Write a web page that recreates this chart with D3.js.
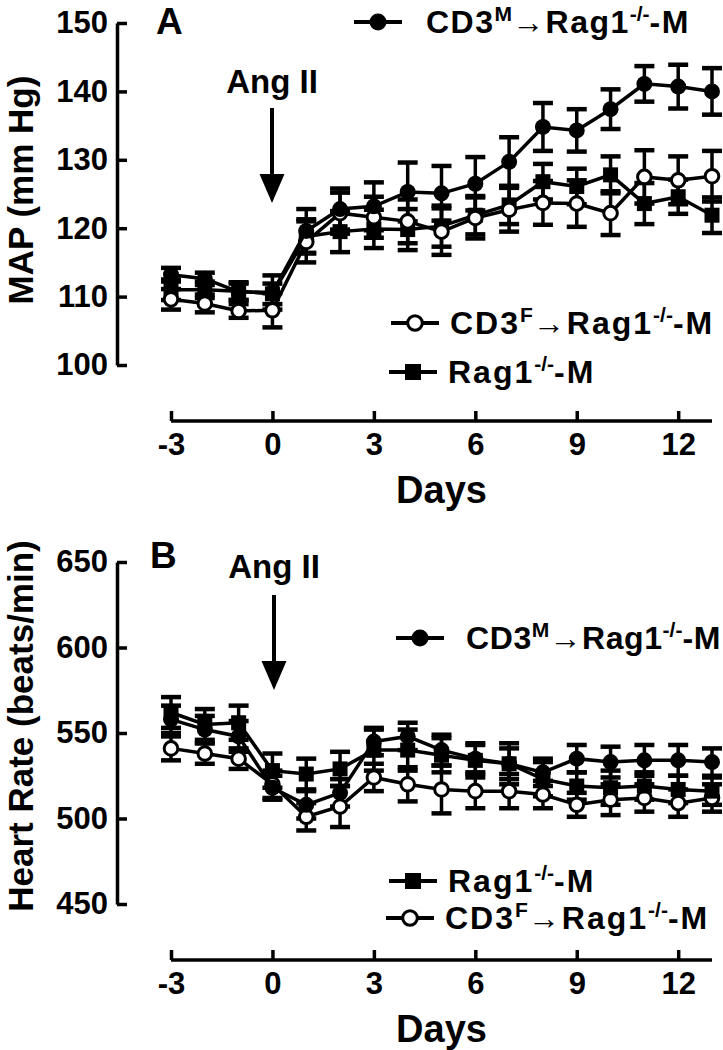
<!DOCTYPE html>
<html>
<head>
<meta charset="utf-8">
<script src="https://cdn.jsdelivr.net/npm/d3@7"></script>
<style>
  body { margin: 0; background: #fff; }
  svg text { font-family: "Liberation Sans", Arial, sans-serif; font-weight: bold; fill: #000; }
  .axis path, .axis line { stroke: #000; stroke-width: 3.5; }
  .axis text { font-size: 31px; }
</style>
</head>
<body>
<script>
(function (){

    //days of the protocol (Ang II started at day 0)
    var days = [-3, -2, -1, 0, 1, 2, 3, 4, 5, 6, 7, 8, 9, 10, 11, 12, 13];
    var dayTicks = [-3, 0, 3, 6, 9, 12];

    //panel A, mean arterial pressure (mm Hg), mean and SEM
    var mapTicks = [100, 110, 120, 130, 140, 150];
    var mapCD3M = [113.2, 112.6, 110.7, 110.6, 119.6, 122.8, 123.2, 125.3, 125.1, 126.5, 129.7, 134.8, 134.3, 137.4, 141.1, 140.7, 140.0];
    var mapCD3MErr = [1.0, 0.9, 1.2, 2.5, 3.2, 3.0, 3.5, 4.3, 4.0, 3.9, 3.6, 3.5, 3.1, 2.9, 2.6, 3.2, 3.4];
    var mapCD3F = [109.6, 109.0, 107.9, 108.0, 118.0, 122.2, 121.6, 121.0, 119.5, 121.5, 122.7, 123.7, 123.6, 122.2, 127.5, 127.0, 127.6];
    var mapCD3FErr = [1.5, 1.3, 1.0, 2.5, 3.0, 3.0, 3.0, 3.2, 3.4, 3.0, 3.2, 3.2, 3.4, 3.2, 3.9, 3.5, 3.7];
    var mapRag = [111.0, 111.0, 110.8, 110.4, 118.8, 119.5, 119.9, 119.8, 120.3, 121.9, 123.4, 126.8, 126.1, 127.8, 123.6, 124.6, 121.9];
    var mapRagErr = [1.5, 1.2, 1.3, 1.5, 2.5, 3.0, 2.8, 3.0, 3.0, 2.8, 2.8, 2.6, 2.6, 2.7, 3.0, 2.5, 2.6];

    //panel B, heart rate (beats/min), mean and SEM
    var hrTicks = [450, 500, 550, 600, 650];
    var hrCD3M = [558, 552, 548, 518, 508, 515, 545, 548, 540, 535, 532, 527, 535, 533, 534, 534, 533];
    var hrCD3MErr = [8, 8, 9, 7, 8, 8, 8, 8, 9, 8, 9, 8, 8, 9, 9, 9, 8];
    var hrCD3F = [541, 538, 535, 520, 501, 507, 524, 520, 517, 516, 516, 514, 508, 511, 512, 509, 512];
    var hrCD3FErr = [7, 6, 6, 8, 8, 12, 8, 10, 14, 10, 10, 8, 7, 9, 8, 8, 8];
    var hrRag = [562, 555, 556, 528, 526, 529, 540, 540, 537, 534, 532, 523, 519, 518, 519, 517, 516];
    var hrRagErr = [9, 9, 10, 10, 9, 10, 12, 12, 10, 10, 12, 10, 8, 10, 8, 8, 8];

    var width = 723, height = 1050;

    var svg = d3.select("body")
        .append("svg")
        .attr("width", width)
        .attr("height", height);

    //shared day scale
    var x = d3.scaleLinear()
        .domain([-3, 13])
        .range([171, 712]);

    var yA = d3.scaleLinear().domain([100, 150]).range([365, 23]);
    var yB = d3.scaleLinear().domain([450, 650]).range([904, 562]);

    drawPanel(yA, mapTicks, 421, "MAP (mm Hg)", 190, [
        {mean: mapRag, err: mapRagErr, shape: "square"},
        {mean: mapCD3F, err: mapCD3FErr, shape: "open"},
        {mean: mapCD3M, err: mapCD3MErr, shape: "filled"}
    ]);
    drawPanel(yB, hrTicks, 960, "Heart Rate (beats/min)", 726, [
        {mean: hrCD3F, err: hrCD3FErr, shape: "open"},
        {mean: hrRag, err: hrRagErr, shape: "square"},
        {mean: hrCD3M, err: hrCD3MErr, shape: "filled"}
    ]);

    //panel letters
    svg.append("text").attr("x", 156).attr("y", 34).style("font-size", "37px").text("A");
    svg.append("text").attr("x", 150).attr("y", 568).style("font-size", "37px").text("B");

    //Ang II annotations
    angArrow(272, 93, 108, 203);
    angArrow(274, 578, 595, 690);

    //legends
    var cd3m = [["CD3", ""], ["M", "sup"], ["\u2192Rag1", ""], ["-/-", "sup"], ["-M", ""]];
    var cd3f = [["CD3", ""], ["F", "sup"], ["\u2192Rag1", ""], ["-/-", "sup"], ["-M", ""]];
    var rag = [["Rag1", ""], ["-/-", "sup"], ["-M", ""]];
    legendItem(378, 22, "filled", cd3m, 48, 1.5);
    legendItem(415, 323, "open", cd3f, 35, 2);
    legendItem(413, 372, "square", rag, 35, 2);
    legendItem(420, 638, "filled", cd3m, 46, 0.6);
    legendItem(413, 881, "square", rag, 35, 2);
    legendItem(410, 918, "open", cd3f, 35, 2);

    function drawPanel(y, ticks, axisY, label, labelY, series){
        //y axis, ticks pointing into the plot
        svg.append("g")
            .attr("class", "axis")
            .attr("transform", "translate(117,0)")
            .call(d3.axisLeft(y).tickValues(ticks).tickSize(-10).tickSizeOuter(0).tickPadding(9));

        //x axis, ticks pointing up, plain hyphen for negatives
        svg.append("g")
            .attr("class", "axis")
            .attr("transform", "translate(0," + axisY + ")")
            .call(d3.axisBottom(x).tickValues(dayTicks).tickSize(-10).tickSizeOuter(0).tickPadding(12)
                .tickFormat(function(d){ return String(d); }))
            .select(".domain").attr("d", "M" + x(-3) + ",0H" + x(13));

        svg.append("text")
            .attr("x", (x(-3) + x(13)) / 2)
            .attr("y", axisY + 82)
            .attr("text-anchor", "middle")
            .style("font-size", "38px")
            .text("Days");

        svg.append("text")
            .attr("transform", "translate(33," + labelY + ") rotate(-90)")
            .attr("text-anchor", "middle")
            .style("font-size", "35px")
            .text(label);

        var line = d3.line()
            .x(function(d, i){ return x(days[i]); })
            .y(function(d){ return y(d); });

        //error bars first, then lines and markers
        series.forEach(function(s){
            var g = svg.append("g");
            s.mean.forEach(function(m, i){
                var cx = x(days[i]), top = y(m + s.err[i]), bot = y(m - s.err[i]);
                g.append("line").attr("x1", cx).attr("x2", cx).attr("y1", top).attr("y2", bot)
                    .attr("stroke", "#000").attr("stroke-width", 3.5);
                [top, bot].forEach(function(cy){
                    g.append("line").attr("x1", cx - 10).attr("x2", cx + 10).attr("y1", cy).attr("y2", cy)
                        .attr("stroke", "#000").attr("stroke-width", 4.5);
                });
            });
        });
        series.forEach(function(s){
            svg.append("path")
                .datum(s.mean)
                .attr("d", line)
                .attr("fill", "none")
                .attr("stroke", "#000")
                .attr("stroke-width", 3.5);
            s.mean.forEach(function(m, i){
                marker(svg, x(days[i]), y(m), s.shape, 8);
            });
        });
    }

    function marker(g, cx, cy, shape, r){
        if (shape === "square"){
            g.append("rect").attr("x", cx - r + 0.5).attr("y", cy - r + 0.5).attr("width", 2 * r - 1).attr("height", 2 * r - 1).attr("fill", "#000");
        } else if (shape === "open"){
            g.append("circle").attr("cx", cx).attr("cy", cy).attr("r", r - 1.2).attr("fill", "#fff").attr("stroke", "#000").attr("stroke-width", 3);
        } else {
            g.append("circle").attr("cx", cx).attr("cy", cy).attr("r", r).attr("fill", "#000");
        }
    }

    function angArrow(ax, textY, y0, y1){
        svg.append("text")
            .attr("x", ax)
            .attr("y", textY)
            .attr("text-anchor", "middle")
            .style("font-size", "33px")
            .text("Ang II");
        svg.append("line")
            .attr("x1", ax).attr("x2", ax)
            .attr("y1", y0).attr("y2", y1 - 26)
            .attr("stroke", "#000").attr("stroke-width", 4);
        svg.append("path")
            .attr("d", "M" + (ax - 12.5) + "," + (y1 - 29) + "L" + (ax + 12.5) + "," + (y1 - 29) + "L" + ax + "," + y1 + "Z")
            .attr("fill", "#000");
    }

    function legendItem(cx, cy, shape, parts, gap, spacing){
        svg.append("line")
            .attr("x1", cx - 24).attr("x2", cx + 24)
            .attr("y1", cy).attr("y2", cy)
            .attr("stroke", "#000").attr("stroke-width", 4);
        marker(svg, cx, cy, shape, 8.5);
        var t = svg.append("text")
            .attr("x", cx + gap)
            .attr("y", cy + 11)
            .style("font-size", "32px")
            .style("letter-spacing", spacing + "px");
        parts.forEach(function(p, i){
            var ts = t.append("tspan").text(p[0]);
            if (p[1] === "sup"){
                ts.attr("dy", -12).style("font-size", "21px").style("letter-spacing", "0px");
            }
            else if (i > 0){
                ts.attr("dy", 12);
            }
        });
    }

})();
</script>
</body>
</html>
